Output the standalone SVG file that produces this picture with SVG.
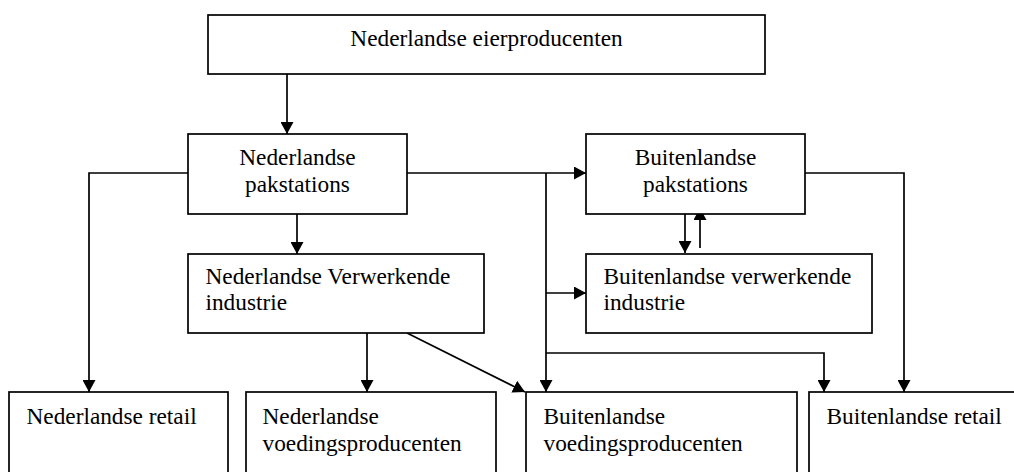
<svg xmlns="http://www.w3.org/2000/svg" width="1014" height="472" viewBox="0 0 1014 472">
<style>
.box{fill:#fff;stroke:#000;stroke-width:1.7}
.t{font-family:"Liberation Serif","Times New Roman",serif;font-size:23.3px;fill:#000}
.c{text-anchor:middle}
.ln{fill:none;stroke:#000;stroke-width:1.7}
</style>
<defs>
<marker id="ah" viewBox="0 0 12 13" refX="12" refY="6.5" markerWidth="12" markerHeight="13" markerUnits="userSpaceOnUse" orient="auto">
<path d="M0,0 L12,6.5 L0,13 Z" fill="#000"/>
</marker>
</defs>
<rect width="1014" height="472" fill="#fff"/>
<g id="connectors">
<path class="ln" d="M287,74 V134" marker-end="url(#ah)"/>
<path class="ln" d="M188,173 H89 V392" marker-end="url(#ah)"/>
<path class="ln" d="M407,173 H586" marker-end="url(#ah)"/>
<path class="ln" d="M546,173 V392" marker-end="url(#ah)"/>
<path class="ln" d="M546,293 H586" marker-end="url(#ah)"/>
<path class="ln" d="M546,353 H824 V392" marker-end="url(#ah)"/>
<path class="ln" d="M805,173 H904 V392" marker-end="url(#ah)"/>
<path class="ln" d="M297,214 V254" marker-end="url(#ah)"/>
<path class="ln" d="M367,333 V392" marker-end="url(#ah)"/>
<path class="ln" d="M407,333 L525,392" marker-end="url(#ah)"/>
<path class="ln" d="M685,214 V253" marker-end="url(#ah)"/>
<path class="ln" d="M700,248 V208" marker-end="url(#ah)"/>
</g>
<g id="n-eierproducenten">
<rect class="box" x="208" y="15" width="557" height="59"/>
<text class="t c" x="486.5" y="46">Nederlandse eierproducenten</text>
</g>
<g id="n-nl-pakstations">
<rect class="box" x="188" y="134" width="219" height="80"/>
<text class="t c" x="297.5" y="165">Nederlandse</text>
<text class="t c" x="297.5" y="192">pakstations</text>
</g>
<g id="n-bl-pakstations">
<rect class="box" x="586" y="134" width="219" height="80"/>
<text class="t c" x="695.5" y="165">Buitenlandse</text>
<text class="t c" x="695.5" y="192">pakstations</text>
</g>
<g id="n-nl-verwerkende">
<rect class="box" x="188" y="254" width="296" height="79"/>
<text class="t" x="205.5" y="284">Nederlandse Verwerkende</text>
<text class="t" x="205.5" y="310">industrie</text>
</g>
<g id="n-bl-verwerkende">
<rect class="box" x="586" y="254" width="286" height="79"/>
<text class="t" x="603.5" y="284">Buitenlandse verwerkende</text>
<text class="t" x="603.5" y="310">industrie</text>
</g>
<g id="n-nl-retail">
<rect class="box" x="9" y="392" width="219" height="100"/>
<text class="t" x="26.5" y="424">Nederlandse retail</text>
</g>
<g id="n-nl-voeding">
<rect class="box" x="246" y="392" width="250" height="100"/>
<text class="t" x="262.5" y="424">Nederlandse</text>
<text class="t" x="262.5" y="451">voedingsproducenten</text>
</g>
<g id="n-bl-voeding">
<rect class="box" x="526" y="392" width="271" height="100"/>
<text class="t" x="543.5" y="424">Buitenlandse</text>
<text class="t" x="543.5" y="451">voedingsproducenten</text>
</g>
<g id="n-bl-retail">
<rect class="box" x="809" y="392" width="220" height="100"/>
<text class="t" x="826.5" y="424">Buitenlandse retail</text>
</g>
</svg>
